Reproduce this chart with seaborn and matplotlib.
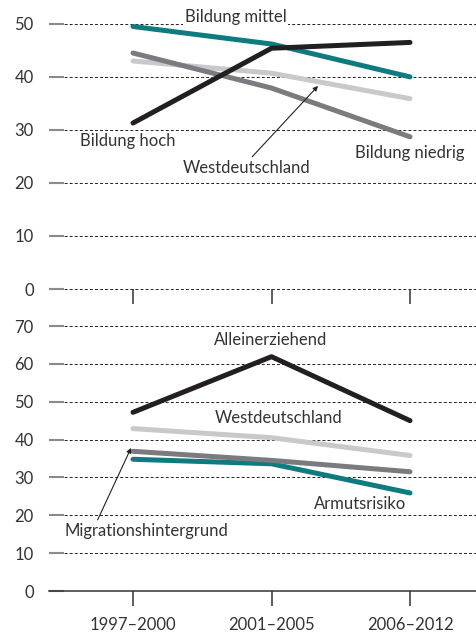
import pandas as pd
import seaborn as sns
import matplotlib.pyplot as plt

# data
perioden = ["1997–2000", "2001–2005", "2006–2012"]

bildung_hoch = [31.3, 45.4, 46.5]
bildung_mittel = [49.5, 46.2, 40.0]
bildung_niedrig = [44.5, 37.9, 28.7]
west_oben = [43.0, 40.7, 35.9]

alleinerziehend = [47.2, 61.9, 45.0]
west_unten = [42.9, 40.5, 35.8]
migration = [36.9, 34.5, 31.5]
armutsrisiko = [34.8, 33.6, 25.9]

TEAL = "#0e7b80"
BLACK = "#231f20"
DGRAY = "#7a7a7f"
LGRAY = "#c9c9cb"
TXT = "#333333"

sns.set_style("white")
plt.rcParams["font.family"] = ["Lato", "DejaVu Sans"]

fig = plt.figure(figsize=(4.77, 6.37), dpi=100)
W, H = 477, 637
ax1 = fig.add_axes([49 / W, (H - 289) / H, 1 - 49 / W, 289 / H])
ax2 = fig.add_axes([49 / W, (H - 591) / H, 1 - 49 / W, (591 - 312) / H])

top = pd.DataFrame({
    "periode": perioden * 4,
    "wert": west_oben + bildung_niedrig + bildung_mittel + bildung_hoch,
    "gruppe": ["Westdeutschland"] * 3 + ["Bildung niedrig"] * 3
              + ["Bildung mittel"] * 3 + ["Bildung hoch"] * 3,
})
bottom = pd.DataFrame({
    "periode": perioden * 4,
    "wert": west_unten + armutsrisiko + migration + alleinerziehend,
    "gruppe": ["Westdeutschland"] * 3 + ["Armutsrisiko"] * 3
              + ["Migrationshintergrund"] * 3 + ["Alleinerziehend"] * 3,
})

pal_top = {"Westdeutschland": LGRAY, "Bildung niedrig": DGRAY,
           "Bildung mittel": TEAL, "Bildung hoch": BLACK}
pal_bot = {"Westdeutschland": LGRAY, "Armutsrisiko": TEAL,
           "Migrationshintergrund": DGRAY, "Alleinerziehend": BLACK}

sns.lineplot(data=top, x="periode", y="wert", hue="gruppe", palette=pal_top,
             ax=ax1, legend=False, sort=False, lw=3.6, solid_capstyle="round")
sns.lineplot(data=bottom, x="periode", y="wert", hue="gruppe", palette=pal_bot,
             ax=ax2, legend=False, sort=False, lw=3.6, solid_capstyle="round")

px = 138.5
for ax, ymax, yticks in [(ax1, 54.5, range(0, 51, 10)),
                         (ax2, 73.7, range(0, 71, 10))]:
    ax.set_xlim(-(133 - 49) / px, 2 + (477 - 410) / px)
    ax.set_ylim(0, ymax)
    ax.set_yticks(list(yticks))
    ax.set_xticks(range(3))
    ax.set_xlabel("")
    ax.set_ylabel("")
    for s in ["top", "right", "left", "bottom"]:
        ax.spines[s].set_visible(False)
    ax.yaxis.grid(True, color="#222222", lw=0.7, ls=(0, (3, 2.2)))
    ax.set_axisbelow(True)
    ax.tick_params(axis="y", direction="in", length=11, width=1.5,
                   color="#8a8a8a", pad=11, labelsize=12, labelcolor=TXT,
                   left=True)
    ax.tick_params(axis="x", direction="out", length=11, width=1.1,
                   color="#333333", pad=8, labelsize=12, labelcolor=TXT,
                   bottom=True)
    ax.patch.set_alpha(0)

# dashed zero line of the upper panel (sits on the axes edge)
ax1.axhline(0, color="#222222", lw=0.7, ls=(0, (3, 2.2)), clip_on=False,
            zorder=0.5)
ax1.set_xticklabels([])
ax2.set_xticklabels(perioden)
ax2.spines["bottom"].set_visible(True)
ax2.spines["bottom"].set_color("#333333")
ax2.spines["bottom"].set_linewidth(1.1)

tk = dict(fontsize=12, color=TXT, ha="center", va="center")
arrow = dict(arrowstyle="-|>", lw=0.8, color="#222222", mutation_scale=7,
             shrinkA=0, shrinkB=0)

ax1.text(0.74, 51.3, "Bildung mittel",
         bbox=dict(facecolor="white", edgecolor="none", pad=1), **tk)
ax1.text(-0.04, 27.9, "Bildung hoch", **tk)
ax1.text(2.0, 25.7, "Bildung niedrig", **tk)
ax1.annotate("Westdeutschland", xy=(1.336, 38.3), xytext=(0.82, 22.8),
             arrowprops=dict(arrow, relpos=(0.52, 1.0)), **tk)

ax2.text(0.99, 66.3, "Alleinerziehend", **tk)
ax2.text(1.05, 45.7, "Westdeutschland", **tk)
ax2.text(1.64, 23.0, "Armutsrisiko", **tk)
ax2.annotate("Migrationshintergrund", xy=(-0.014, 37.8), xytext=(0.10, 15.8),
             arrowprops=dict(arrow, relpos=(0.19, 1.0)), **tk)

fig.savefig("out.png", dpi=100)
